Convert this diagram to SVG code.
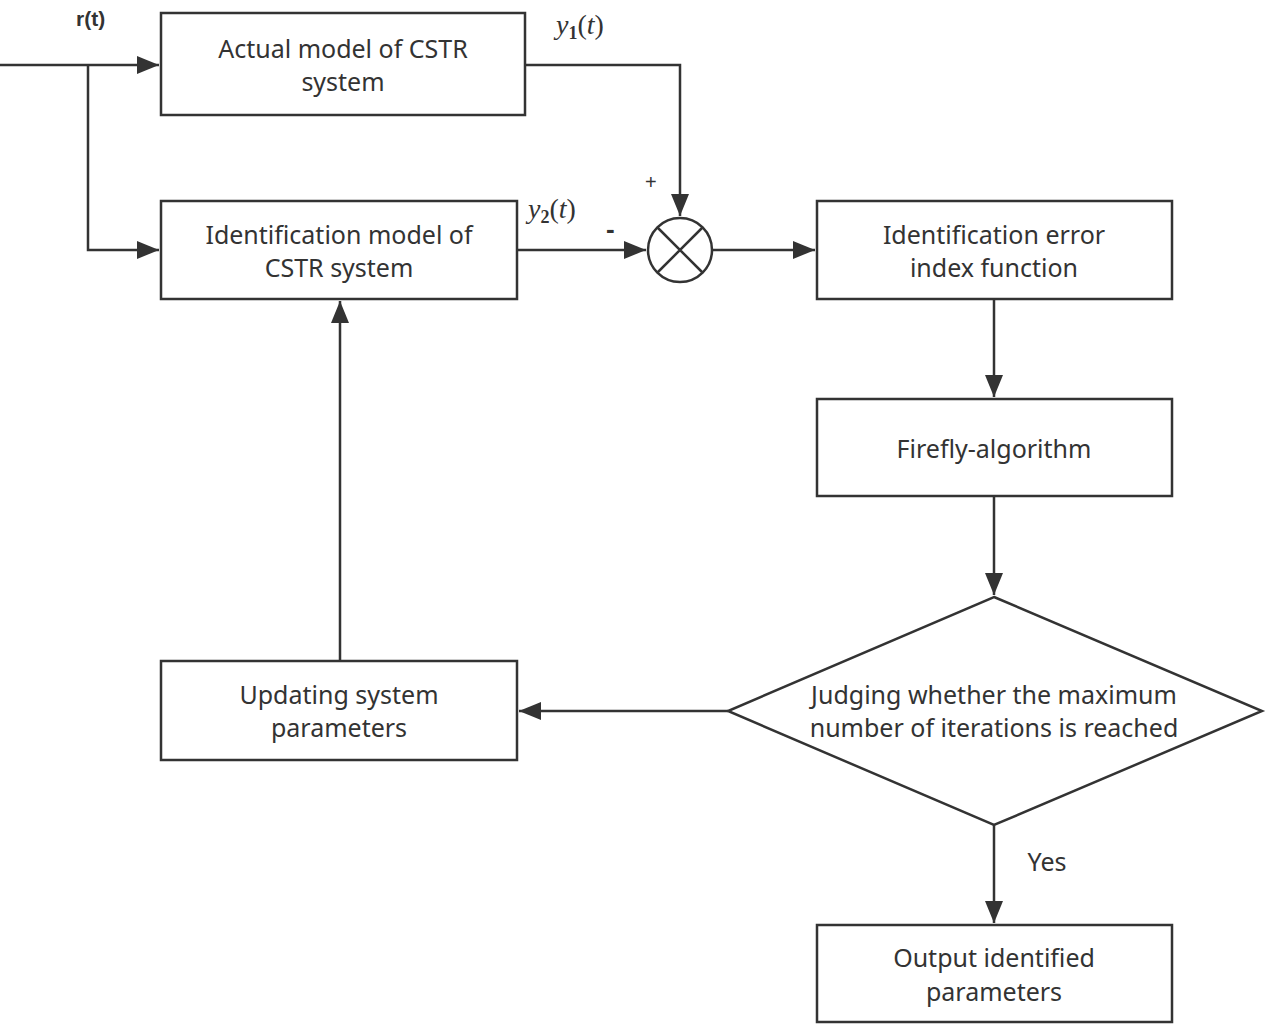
<svg xmlns="http://www.w3.org/2000/svg" width="1266" height="1025" viewBox="0 0 1266 1025">
<style>
.b{fill:#fff;stroke:#333;stroke-width:2.5}
.t{font-family:"Noto Sans",sans-serif;font-size:25px;fill:#333;text-anchor:middle}
.l{fill:none;stroke:#333;stroke-width:2.5}
.m{font-family:"Liberation Serif",serif;font-style:italic;font-size:28px;fill:#333}
</style>
<defs><marker id="a" markerWidth="10" markerHeight="10" refX="9" refY="5" orient="auto" markerUnits="userSpaceOnUse" viewBox="0 0 10 10"><path d="M0,0L10,5L0,10z" fill="#333"/></marker>
<marker id="A" markerWidth="22" markerHeight="18" refX="22" refY="9" orient="auto" markerUnits="userSpaceOnUse"><path d="M0,0L22,9L0,18z" fill="#333"/></marker></defs>
<rect width="1266" height="1025" fill="#fff"/>
<g id="connectors">
<path class="l" d="M0,65H159" marker-end="url(#A)"/>
<path class="l" d="M88,65V250H159" marker-end="url(#A)"/>
<path class="l" d="M525,65H680V216" marker-end="url(#A)"/>
<path class="l" d="M517,250H646" marker-end="url(#A)"/>
<path class="l" d="M712,250H815" marker-end="url(#A)"/>
<path class="l" d="M994,299V397" marker-end="url(#A)"/>
<path class="l" d="M994,496V595" marker-end="url(#A)"/>
<path class="l" d="M728,711H519" marker-end="url(#A)"/>
<path class="l" d="M340,661V301" marker-end="url(#A)"/>
<path class="l" d="M994,825V923" marker-end="url(#A)"/>
<text x="1047" y="871" class="t" font-size="23">Yes</text>
<text x="76" y="26" font-family="Liberation Sans,sans-serif" font-weight="bold" font-size="21" fill="#333">r(t)</text>
<text x="556" y="34" class="m">y<tspan font-size="18" dy="5" font-style="normal" font-weight="bold">1</tspan><tspan dy="-5" font-style="normal">(</tspan>t<tspan font-style="normal">)</tspan></text>
<text x="528" y="218" class="m">y<tspan font-size="18" dy="5" font-style="normal" font-weight="bold">2</tspan><tspan dy="-5" font-style="normal">(</tspan>t<tspan font-style="normal">)</tspan></text>
<text x="645" y="189" font-family="Liberation Sans,sans-serif" font-size="20" fill="#333">+</text>
<text x="606" y="238" font-family="Liberation Sans,sans-serif" font-size="26" font-weight="bold" fill="#333">-</text>
</g>
<g id="sum"><circle cx="680" cy="250" r="32" class="b"/><path class="l" d="M657,227L703,273M703,227L657,273"/></g>
<g id="n1"><rect class="b" x="161" y="13" width="364" height="102"/><text class="t" x="343" y="58">Actual model of CSTR</text><text class="t" x="343" y="91">system</text></g>
<g id="n2"><rect class="b" x="161" y="201" width="356" height="98"/><text class="t" x="339" y="244">Identification model of</text><text class="t" x="339" y="277">CSTR system</text></g>
<g id="n3"><rect class="b" x="817" y="201" width="355" height="98"/><text class="t" x="994" y="244">Identification error</text><text class="t" x="994" y="277">index function</text></g>
<g id="n4"><rect class="b" x="817" y="399" width="355" height="97"/><text class="t" x="994" y="458">Firefly-algorithm</text></g>
<g id="n5"><path class="b" d="M994,597L1262,711L994,825L728,711Z"/><text class="t" x="994" y="704">Judging whether the maximum</text><text class="t" x="994" y="737">number of iterations is reached</text></g>
<g id="n6"><rect class="b" x="161" y="661" width="356" height="99"/><text class="t" x="339" y="704">Updating system</text><text class="t" x="339" y="737">parameters</text></g>
<g id="n7"><rect class="b" x="817" y="925" width="355" height="97"/><text class="t" x="994" y="967">Output identified</text><text class="t" x="994" y="1001">parameters</text></g>
</svg>
